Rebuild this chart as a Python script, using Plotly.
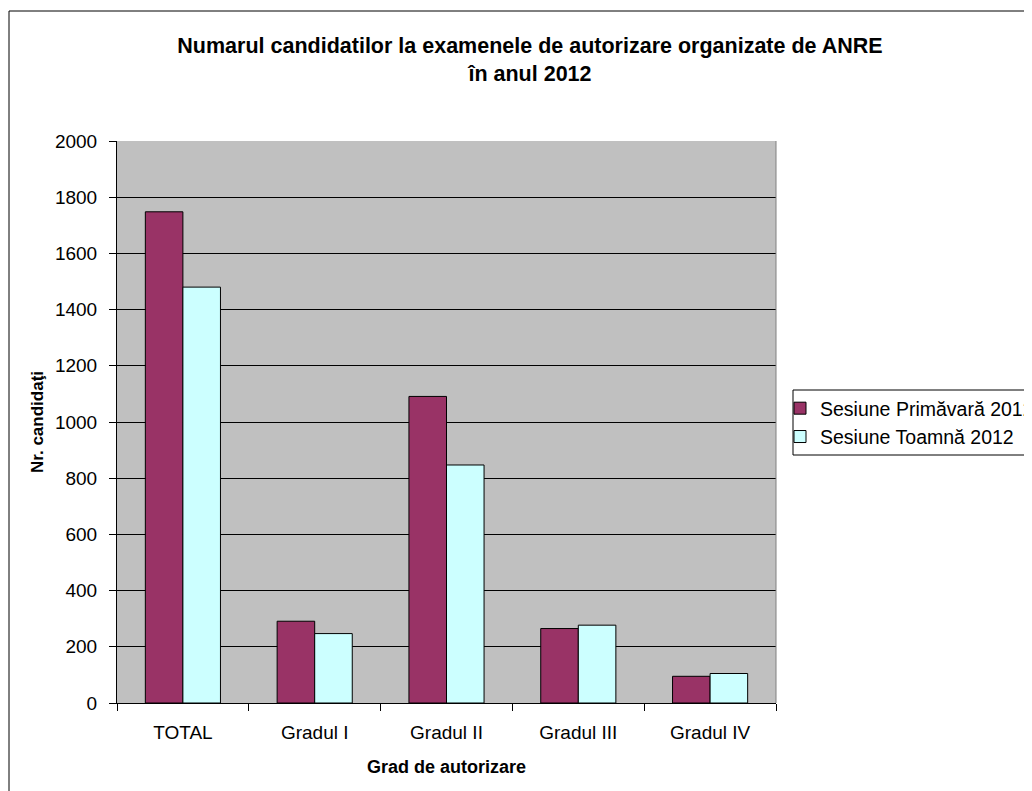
import plotly.graph_objects as go

categories = ["TOTAL", "Gradul I", "Gradul II", "Gradul III", "Gradul IV"]
primavara = [1748, 291, 1091, 265, 95]
toamna = [1480, 247, 847, 277, 105]
y_ticks = [0, 200, 400, 600, 800, 1000, 1200, 1400, 1600, 1800, 2000]

FONT = "Liberation Sans, Arial, sans-serif"

# page has an 8px body margin, so the figure is drawn from (8, 8)
OFF = 8
W, H = 1032 - OFF, 791 - OFF
# plot area in page pixels
L, R, T, B = 117, 776, 141, 703


def px_x(p):
    return (p - L) / (R - L)


def px_y(p):
    return (B - p) / (B - T)


fig = go.Figure()
fig.add_trace(go.Bar(
    x=categories, y=primavara, name="Sesiune Primăvară 2012",
    marker=dict(color="#993366", line=dict(color="#000000", width=1)),
))
fig.add_trace(go.Bar(
    x=categories, y=toamna, name="Sesiune Toamnă 2012",
    marker=dict(color="#CCFFFF", line=dict(color="#000000", width=1)),
))

# outer chart border
fig.add_shape(
    type="rect", xref="paper", yref="paper",
    x0=px_x(9), x1=px_x(1045), y0=px_y(805), y1=px_y(11),
    line=dict(color="#000000", width=1), fillcolor="rgba(0,0,0,0)", layer="below",
)
# legend frame (legend itself is drawn without border so the keys sit closer to the left)
fig.add_shape(
    type="rect", xref="paper", yref="paper",
    x0=px_x(793), x1=px_x(1045), y0=px_y(455), y1=px_y(390),
    line=dict(color="#000000", width=1), fillcolor="rgba(0,0,0,0)",
)
# right edge of plot area
fig.add_shape(
    type="line", xref="paper", yref="paper", x0=1, x1=1, y0=0, y1=1,
    line=dict(color="#808080", width=1),
)

fig.update_layout(
    width=W, height=H,
    margin=dict(l=L - OFF, r=W - (R - OFF), t=T - OFF, b=H - (B - OFF), autoexpand=False),
    paper_bgcolor="#FFFFFF",
    plot_bgcolor="#C0C0C0",
    barmode="group",
    bargap=0.43,
    bargroupgap=0,
    showlegend=True,
    font=dict(family=FONT, size=19, color="#000000"),
    title=dict(
        text="<b>Numarul candidatilor la examenele de autorizare organizate de ANRE<br>în anul 2012</b>",
        x=px_x(530), xanchor="center", xref="paper",
        y=1 - (53 - OFF) / H, yanchor="middle",
        font=dict(family=FONT, size=21.5),
    ),
    legend=dict(
        x=px_x(780), xanchor="left", xref="paper",
        y=px_y(389), yanchor="top", yref="paper",
        borderwidth=0, bgcolor="rgba(0,0,0,0)",
        font=dict(family=FONT, size=19.5),
        itemwidth=30, tracegroupgap=0,
    ),
    xaxis=dict(
        title=dict(text="<b>Grad de autorizare</b>", font=dict(size=18), standoff=18),
        showline=True, linecolor="#000000", linewidth=1,
        ticks="outside", tickson="boundaries", ticklen=7, tickcolor="#000000",
        tickfont=dict(size=19), ticklabelstandoff=12,
        showgrid=False,
    ),
    yaxis=dict(
        title=dict(text="<b>Nr. candidaţi</b>", font=dict(size=17), standoff=6),
        range=[0, 2000], tickvals=y_ticks,
        showline=True, linecolor="#000000", linewidth=1,
        ticks="outside", ticklen=7, tickcolor="#000000",
        tickfont=dict(size=19), ticklabelstandoff=8,
        showgrid=True, gridcolor="#000000", gridwidth=1,
        zeroline=False,
    ),
)

fig.write_html("out.html")
